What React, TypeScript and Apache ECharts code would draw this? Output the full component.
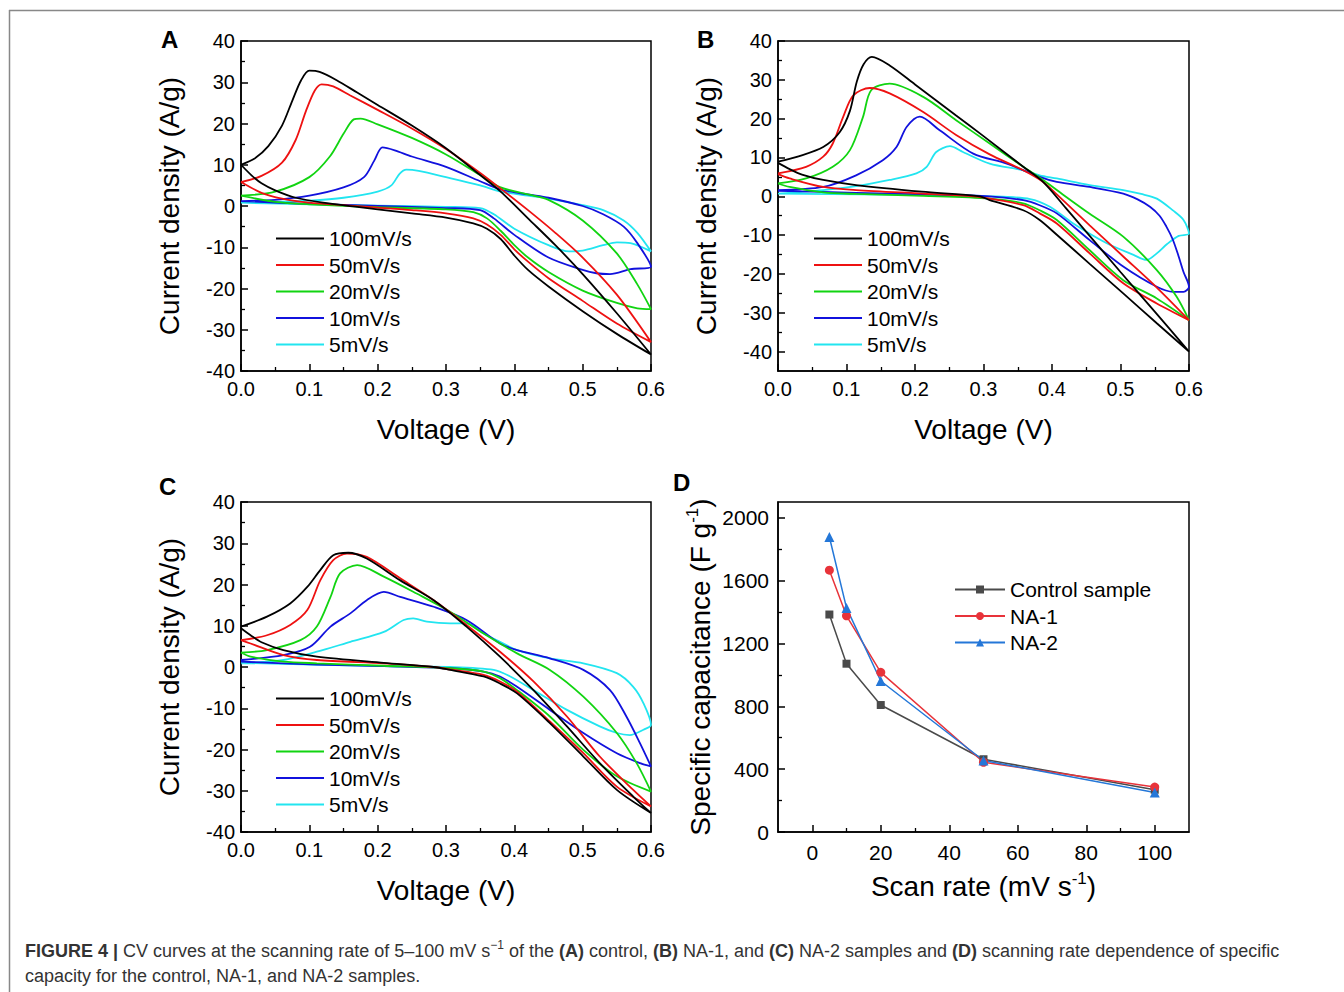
import React, { useEffect, useRef } from "react";
import * as echarts from "echarts";

// ---------- Data ----------
const RATES = ["100mV/s", "50mV/s", "20mV/s", "10mV/s", "5mV/s"];
const RATE_COLORS = ["#000000", "#ee1111", "#11d411", "#1111dd", "#22e5f0"];

// Panel A (control): loop = anodic branch 0 -> 0.6 V, then cathodic branch 0.6 -> 0 V
const A_100 = [[0,10],[0.02,11.5],[0.04,14.5],[0.06,19.5],[0.075,25.5],[0.088,30.5],[0.1,32.8],[0.115,32.5],[0.14,30.5],[0.17,27.5],[0.2,24.5],[0.25,19.5],[0.3,14],[0.35,7.5],[0.38,3.5],[0.42,-3],[0.46,-9.5],[0.5,-16.5],[0.55,-26],[0.6,-36],
  [0.55,-31],[0.5,-25.5],[0.45,-19.5],[0.42,-15.5],[0.4,-12],[0.38,-8],[0.36,-5.5],[0.34,-4.2],[0.3,-2.8],[0.25,-1.8],[0.2,-0.8],[0.17,-0.2],[0.12,0.8],[0.08,2],[0.05,3.8],[0.03,5.5],[0.015,7.5],[0,10]];
const A_50 = [[0,5.8],[0.03,7.3],[0.06,10.5],[0.08,16],[0.095,23],[0.108,28],[0.118,29.5],[0.135,29],[0.16,26.8],[0.2,23.3],[0.25,18.8],[0.3,13.8],[0.35,8],[0.38,4.2],[0.42,-1],[0.46,-6.5],[0.5,-12.5],[0.55,-21.5],[0.6,-33],
  [0.55,-28.5],[0.5,-23],[0.45,-17.5],[0.42,-13.5],[0.4,-10.5],[0.38,-7],[0.36,-4.5],[0.34,-3],[0.3,-1.8],[0.25,-1],[0.2,-0.4],[0.15,0.2],[0.1,0.8],[0.06,1.8],[0.03,3.2],[0,5.8]];
const A_20 = [[0,2.5],[0.05,3.5],[0.1,7],[0.13,12],[0.15,17.5],[0.165,21],[0.175,21.2],[0.2,19.8],[0.25,16.5],[0.3,12.5],[0.35,7.5],[0.38,4.5],[0.42,2.8],[0.45,1.5],[0.5,-3.5],[0.55,-11.5],[0.58,-19],[0.6,-25],
  [0.58,-24.8],[0.55,-23.5],[0.5,-20.5],[0.45,-16],[0.42,-12.5],[0.4,-9.5],[0.38,-6],[0.36,-3],[0.34,-1.5],[0.3,-0.8],[0.2,-0.3],[0.1,0.4],[0.05,1],[0,2.5]];
const A_10 = [[0,1.2],[0.05,1.5],[0.1,2.5],[0.15,4.5],[0.18,7],[0.195,11],[0.207,14.2],[0.225,13.5],[0.25,12],[0.3,9.5],[0.35,6],[0.38,4],[0.42,2.8],[0.45,2],[0.5,0],[0.53,-2],[0.56,-5],[0.58,-9],[0.6,-14.7],
  [0.57,-15.3],[0.54,-16.5],[0.52,-16.3],[0.5,-15.5],[0.45,-12.5],[0.4,-7],[0.37,-3],[0.35,-1],[0.3,-0.5],[0.2,0],[0.1,0.5],[0,1.2]];
const A_5 = [[0,0.8],[0.05,1],[0.1,1.3],[0.15,2],[0.2,3.5],[0.22,5],[0.232,7.8],[0.242,8.8],[0.26,8.5],[0.3,7],[0.35,5],[0.38,3.5],[0.42,2.5],[0.45,1.8],[0.5,0.2],[0.53,-1],[0.56,-3.5],[0.58,-6.5],[0.6,-11],
  [0.57,-9],[0.55,-8.8],[0.53,-9.5],[0.5,-10.8],[0.48,-11],[0.45,-9.5],[0.4,-5.5],[0.37,-2],[0.35,-0.5],[0.3,-0.2],[0.2,0.1],[0.1,0.4],[0,0.8]];

// Panel B (NA-1)
const B_100 = [[0,8.9],[0.03,10.3],[0.066,12.7],[0.09,16.5],[0.105,22],[0.115,29.5],[0.125,34],[0.137,35.9],[0.163,33.7],[0.2,28.8],[0.26,20.8],[0.3,15.5],[0.358,7.6],[0.387,3.7],[0.42,-3],[0.455,-10.2],[0.5,-19.5],[0.55,-29.7],[0.6,-40],
  [0.553,-32.7],[0.504,-25],[0.455,-17.4],[0.407,-9.9],[0.382,-6.1],[0.358,-3.6],[0.309,-1],[0.295,0],[0.21,1.2],[0.114,2.9],[0.066,4.2],[0.035,5.6],[0.017,7],[0,8.6]];
const B_50 = [[0,5.9],[0.041,7.6],[0.066,10.2],[0.08,13.6],[0.095,20.4],[0.11,26],[0.134,27.9],[0.163,26.5],[0.212,21.7],[0.26,15.8],[0.309,10.8],[0.358,6.7],[0.387,3.7],[0.407,0.5],[0.455,-7.5],[0.504,-15.5],[0.553,-23.5],[0.6,-31.9],
  [0.553,-27.6],[0.504,-22.4],[0.455,-14.7],[0.407,-7],[0.382,-4.4],[0.358,-2.3],[0.309,-0.6],[0.285,0],[0.212,0.7],[0.114,1.6],[0.066,2.4],[0.017,4.6],[0,5.7]];
const B_20 = [[0,3.3],[0.041,4.6],[0.08,7.6],[0.105,11.9],[0.124,20.4],[0.136,27.3],[0.163,29],[0.212,25.6],[0.26,19.6],[0.309,13.6],[0.358,7.6],[0.387,4.2],[0.407,1.6],[0.455,-4.5],[0.504,-10.4],[0.553,-19],[0.582,-25.9],[0.6,-31.9],
  [0.553,-26.3],[0.504,-21.6],[0.455,-13.9],[0.407,-6.1],[0.382,-3.6],[0.358,-1.8],[0.309,-0.6],[0.212,0.1],[0.114,0.6],[0.066,1],[0.017,2.4],[0,3.3]];
const B_10 = [[0,1.6],[0.066,2.4],[0.114,5.4],[0.153,9.3],[0.173,12.7],[0.188,17.9],[0.207,20.5],[0.236,17],[0.285,11],[0.334,8.4],[0.382,5],[0.407,3.7],[0.455,2.4],[0.504,0.7],[0.525,-0.8],[0.543,-2.7],[0.557,-5],[0.567,-7.8],[0.576,-11],[0.584,-15],[0.592,-19.5],[0.6,-23.3],
  [0.592,-24.6],[0.577,-24.6],[0.553,-23.3],[0.504,-18.1],[0.455,-11.3],[0.407,-4.4],[0.382,-2.3],[0.358,-1],[0.309,0],[0.212,0.5],[0.114,0.9],[0,1.4]];
const B_5 = [[0,0.7],[0.066,1.6],[0.114,2.6],[0.163,4.2],[0.202,5.9],[0.217,7.6],[0.231,11.4],[0.251,12.9],[0.27,11.4],[0.309,8.4],[0.358,6.7],[0.382,5.4],[0.407,4.6],[0.455,2.9],[0.504,1.6],[0.53,0.6],[0.553,-0.6],[0.577,-3.7],[0.592,-6.1],[0.6,-9.6],
  [0.585,-10.2],[0.568,-12.3],[0.553,-14.7],[0.538,-16.4],[0.519,-15.1],[0.48,-12.1],[0.431,-7],[0.397,-2.7],[0.368,-0.7],[0.309,0],[0.212,0.3],[0,0.7]];

// Panel C (NA-2)
const C_100 = [[0,9.8],[0.038,12.2],[0.072,15.4],[0.097,19.4],[0.116,23.5],[0.135,27.1],[0.157,27.7],[0.184,26.3],[0.233,21],[0.282,16.2],[0.33,9.8],[0.379,2.5],[0.428,-5.6],[0.477,-14.4],[0.525,-23.3],[0.574,-31.4],[0.6,-35.4],
  [0.55,-29.8],[0.501,-21.7],[0.452,-13.6],[0.404,-6.4],[0.379,-4],[0.355,-2.3],[0.306,-0.7],[0.282,0],[0.209,1],[0.111,2.5],[0.062,4.1],[0.03,6],[0.014,7.7],[0,9.4]];
const C_50 = [[0,6.5],[0.038,7.7],[0.072,10.2],[0.097,13.8],[0.116,21],[0.135,25.9],[0.155,27.5],[0.184,26.7],[0.233,21.5],[0.282,16.2],[0.33,10.2],[0.379,3.7],[0.428,-3.5],[0.477,-12],[0.525,-21.7],[0.574,-29.8],[0.6,-33.8],
  [0.55,-29],[0.501,-20.9],[0.452,-13.2],[0.404,-6],[0.379,-3.5],[0.355,-1.9],[0.306,-0.6],[0.282,0],[0.209,0.9],[0.111,1.7],[0.062,2.9],[0.014,5.7],[0,6.5]];
const C_20 = [[0,3.5],[0.038,4.1],[0.087,6.5],[0.111,9.8],[0.131,17],[0.145,22.7],[0.17,24.7],[0.209,21.9],[0.257,17.8],[0.306,13.4],[0.355,8.1],[0.404,3.3],[0.452,-0.7],[0.501,-7.2],[0.55,-16],[0.579,-23.3],[0.6,-30.2],
  [0.55,-26.5],[0.501,-20.1],[0.452,-12],[0.404,-5.6],[0.379,-2.7],[0.355,-1.1],[0.306,-0.3],[0.209,0.3],[0.111,0.9],[0.062,1.3],[0.014,2.5],[0,3.5]];
const C_10 = [[0,1.7],[0.062,2.9],[0.101,4.9],[0.131,9.8],[0.16,13],[0.184,16.2],[0.209,18.2],[0.233,17],[0.282,14.6],[0.33,11.4],[0.379,5.7],[0.404,4.1],[0.452,2.1],[0.501,-0.7],[0.54,-5.6],[0.564,-12],[0.584,-18.5],[0.6,-24.1],
  [0.584,-23.3],[0.55,-20.9],[0.501,-16],[0.452,-10.4],[0.404,-4.8],[0.379,-2.3],[0.355,-1.1],[0.306,-0.3],[0.209,0.2],[0.111,0.6],[0,1.3]];
const C_5 = [[0,0.9],[0.062,1.7],[0.111,3.7],[0.16,6.1],[0.209,8.5],[0.238,11.4],[0.252,11.8],[0.272,11],[0.306,10.6],[0.33,10.6],[0.355,8.1],[0.379,6.1],[0.404,4.1],[0.452,2.1],[0.501,0.9],[0.55,-1.5],[0.574,-4.8],[0.589,-8.8],[0.6,-14],
  [0.589,-15.2],[0.569,-16.5],[0.55,-16],[0.525,-14.4],[0.477,-10.4],[0.428,-5.6],[0.394,-2.3],[0.37,-0.7],[0.306,0],[0.209,0.2],[0,1]];

// Panel D
const SCAN_RATES = [5, 10, 20, 50, 100];
const CONTROL_CAP = [1384, 1071, 808, 463, 269];
const NA1_CAP = [1666, 1376, 1016, 444, 286];
const NA2_CAP = [1877, 1426, 961, 455, 252];

// Tick values
const CV_Y_TICKS_B = [-40, -30, -20, -10, 0, 10, 20, 30, 40];
const CV_Y_MINOR_B = [-35, -25, -15, -5, 5, 15, 25, 35];
const D_X_TICKS = [0, 20, 40, 60, 80, 100];
const D_X_MINOR = [10, 30, 50, 70, 90];
const D_Y_TICKS = [0, 400, 800, 1200, 1600, 2000];
const D_Y_MINOR = [200, 600, 1000, 1400, 1800];

const FONT = "'Liberation Sans', Arial, Helvetica, sans-serif";
const AXIS_LINE = { show: true, onZero: false, lineStyle: { color: "#000", width: 1.5 } };
const NO_LINE = { show: false, onZero: false };

function cvXAxis(gridIndex: number) {
  return {
    type: "value", gridIndex, min: 0, max: 0.6, interval: 0.1, position: "bottom",
    axisLine: AXIS_LINE,
    axisTick: { inside: true, length: 7, lineStyle: { color: "#000", width: 1.5 } },
    minorTick: { show: true, splitNumber: 2, length: 4, lineStyle: { color: "#000", width: 1.3 } },
    axisLabel: { fontSize: 20, color: "#000", fontFamily: FONT, margin: 8, showMinLabel: true, showMaxLabel: true, formatter: (v: number) => v.toFixed(1) },
    splitLine: { show: false },
    name: "Voltage (V)", nameLocation: "middle", nameGap: 44,
    nameTextStyle: { fontSize: 28, color: "#000", fontFamily: FONT },
  };
}
const Y_NAME = {
  name: "Current density (A/g)", nameLocation: "middle", nameGap: 58,
  nameTextStyle: { fontSize: 28, color: "#000", fontFamily: FONT },
};
function cvYAxis(gridIndex: number) {
  return {
    type: "value", gridIndex, min: -40, max: 40, interval: 10, position: "left",
    axisLine: AXIS_LINE,
    axisTick: { inside: true, length: 7, lineStyle: { color: "#000", width: 1.5 } },
    minorTick: { show: true, splitNumber: 2, length: 4, lineStyle: { color: "#000", width: 1.3 } },
    axisLabel: { fontSize: 20, color: "#000", fontFamily: FONT, margin: 6, showMinLabel: true, showMaxLabel: true },
    splitLine: { show: false },
    ...Y_NAME,
  };
}

export default function App() {
  const ref = useRef<HTMLDivElement>(null);
  useEffect(() => {
    if (!ref.current) return;
    const chart = echarts.init(ref.current, undefined, { renderer: "svg" });

    const panels = [
      { curves: [A_100, A_50, A_20, A_10, A_5], xi: 0, yi: 0 },
      { curves: [B_100, B_50, B_20, B_10, B_5], xi: 1, yi: 1 },
      { curves: [C_100, C_50, C_20, C_10, C_5], xi: 2, yi: 3 },
    ];
    const series: any[] = [];
    panels.forEach((p) => {
      p.curves.forEach((data, k) => {
        series.push({
          type: "line", name: RATES[k], xAxisIndex: p.xi, yAxisIndex: p.yi,
          data, symbol: "none", smooth: 0.3, animation: false,
          lineStyle: { color: RATE_COLORS[k], width: 1.8 },
          itemStyle: { color: RATE_COLORS[k] },
          z: 10 - k,
        });
      });
    });
    const dSeries = [
      { name: "Control sample", vals: CONTROL_CAP, color: "#4a4a4a", symbol: "rect", size: 8 },
      { name: "NA-1", vals: NA1_CAP, color: "#e8333a", symbol: "circle", size: 9 },
      { name: "NA-2", vals: NA2_CAP, color: "#2477d8", symbol: "triangle", size: 10 },
    ];
    dSeries.forEach((s) => {
      series.push({
        type: "line", name: s.name, xAxisIndex: 3, yAxisIndex: 4,
        data: SCAN_RATES.map((x, i) => [x, s.vals[i]]),
        symbol: s.symbol, symbolSize: s.size,
        lineStyle: { color: s.color, width: 1.5 }, itemStyle: { color: s.color },
      });
    });

    const legendBase = {
      orient: "vertical", itemWidth: 48, itemHeight: 2, itemGap: 5.5,
      icon: "rect",
      selectedMode: false,
      textStyle: { fontSize: 21, color: "#000", fontFamily: FONT, lineHeight: 20 },
      data: RATES,
    };

    const supRich = {
      a: { fontSize: 28, color: "#000", fontFamily: FONT, lineHeight: 32 },
      s: { fontSize: 17, color: "#000", fontFamily: FONT, lineHeight: 16, verticalAlign: "top" },
    };

    const tickStyle = { color: "#000", width: 1.5 };
    const plain = (v: number) => String(v);

    const option: any = {
      animation: false,
      backgroundColor: "#ffffff",
      grid: [
        { left: 241, top: 41, width: 410, height: 330, show: true, borderColor: "#000", borderWidth: 1.5 },
        { left: 778, top: 41, width: 411, height: 330, show: true, borderColor: "#000", borderWidth: 1.5 },
        { left: 241, top: 502, width: 410, height: 330, show: true, borderColor: "#000", borderWidth: 1.5 },
        { left: 778, top: 502, width: 411, height: 330, show: true, borderColor: "#000", borderWidth: 1.5 },
      ],
      xAxis: [
        cvXAxis(0),
        cvXAxis(1),
        cvXAxis(2),
        {
          type: "value", gridIndex: 3, min: -10, max: 110, position: "bottom",
          axisLine: AXIS_LINE,
          axisTick: { inside: true, length: 7, lineStyle: tickStyle, customValues: D_X_TICKS },
          axisLabel: { fontSize: 21, color: "#000", fontFamily: FONT, margin: 10, customValues: D_X_TICKS, formatter: plain },
          splitLine: { show: false },
          name: "{a|Scan rate (mV s}{s|-1}{a|)}", nameLocation: "middle", nameGap: 38,
          nameTextStyle: { rich: supRich },
        },
        {
          type: "value", gridIndex: 3, min: -10, max: 110, position: "bottom",
          axisLine: NO_LINE,
          axisTick: { inside: true, length: 4, lineStyle: { color: "#000", width: 1.3 }, customValues: D_X_MINOR },
          axisLabel: { show: false },
          splitLine: { show: false },
        },
      ],
      yAxis: [
        cvYAxis(0),
        {
          type: "value", gridIndex: 1, min: -45, max: 40, position: "left",
          axisLine: AXIS_LINE,
          axisTick: { inside: true, length: 7, lineStyle: tickStyle, customValues: CV_Y_TICKS_B },
          axisLabel: { fontSize: 20, color: "#000", fontFamily: FONT, margin: 6, customValues: CV_Y_TICKS_B, formatter: plain },
          splitLine: { show: false },
          ...Y_NAME,
        },
        {
          type: "value", gridIndex: 1, min: -45, max: 40, position: "left",
          axisLine: NO_LINE,
          axisTick: { inside: true, length: 4, lineStyle: { color: "#000", width: 1.3 }, customValues: CV_Y_MINOR_B },
          axisLabel: { show: false },
          splitLine: { show: false },
        },
        cvYAxis(2),
        {
          type: "value", gridIndex: 3, min: 0, max: 2100, position: "left",
          axisLine: AXIS_LINE,
          axisTick: { inside: true, length: 7, lineStyle: tickStyle, customValues: D_Y_TICKS },
          axisLabel: { fontSize: 21, color: "#000", fontFamily: FONT, margin: 9, customValues: D_Y_TICKS, formatter: plain },
          splitLine: { show: false },
          name: "{a|Specific capacitance (F g}{s|-1}{a|)}", nameLocation: "middle", nameGap: 62,
          nameTextStyle: { rich: supRich },
        },
        {
          type: "value", gridIndex: 3, min: 0, max: 2100, position: "left",
          axisLine: NO_LINE,
          axisTick: { inside: true, length: 4, lineStyle: { color: "#000", width: 1.3 }, customValues: D_Y_MINOR },
          axisLabel: { show: false },
          splitLine: { show: false },
        },
      ],
      legend: [
        { ...legendBase, left: 271, top: 223 },
        { ...legendBase, left: 809, top: 223 },
        { ...legendBase, left: 271, top: 683 },
        {
          orient: "vertical", left: 949, top: 574, itemWidth: 50, itemHeight: 10, itemGap: 5.5,
          selectedMode: false,
          textStyle: { fontSize: 21, color: "#000", fontFamily: FONT, lineHeight: 20 },
          data: ["Control sample", "NA-1", "NA-2"],
        },
      ],
      graphic: [
        { type: "line", shape: { x1: 9, y1: 10.5, x2: 1344, y2: 10.5 }, style: { stroke: "#888", lineWidth: 1.5 } },
        { type: "line", shape: { x1: 9.5, y1: 10, x2: 9.5, y2: 992 }, style: { stroke: "#888", lineWidth: 1.5 } },
        { type: "text", x: 161, y: 27, style: { text: "A", fontSize: 24, fontWeight: "bold", fontFamily: FONT, fill: "#000" } },
        { type: "text", x: 697, y: 27, style: { text: "B", fontSize: 24, fontWeight: "bold", fontFamily: FONT, fill: "#000" } },
        { type: "text", x: 159, y: 474, style: { text: "C", fontSize: 24, fontWeight: "bold", fontFamily: FONT, fill: "#000" } },
        { type: "text", x: 673, y: 470, style: { text: "D", fontSize: 24, fontWeight: "bold", fontFamily: FONT, fill: "#000" } },
        {
          type: "text", x: 25, y: 939,
          style: {
            text: "{b|FIGURE 4 |}{n| CV curves at the scanning rate of 5–100 mV s}{s|−1}{n| of the }{b|(A)}{n| control, }{b|(B)}{n| NA-1, and }{b|(C)}{n| NA-2 samples and }{b|(D)}{n| scanning rate dependence of specific}",
            fontSize: 18, fontFamily: FONT, fill: "#333",
            rich: {
              b: { fontSize: 18, fontWeight: "bold", fontFamily: FONT, fill: "#333", lineHeight: 24 },
              n: { fontSize: 18, fontFamily: FONT, fill: "#333", lineHeight: 24 },
              s: { fontSize: 12, fontFamily: FONT, fill: "#333", lineHeight: 13, verticalAlign: "top" },
            },
          },
        },
        {
          type: "text", x: 25, y: 964,
          style: { text: "capacity for the control, NA-1, and NA-2 samples.", fontSize: 18, fontFamily: FONT, fill: "#333", lineHeight: 24 },
        },
      ],
      series,
    };
    chart.setOption(option);
    return () => chart.dispose();
  }, []);
  return <div ref={ref} style={{ position: "absolute", left: 0, top: 0, width: 1344, height: 992 }} />;
}
